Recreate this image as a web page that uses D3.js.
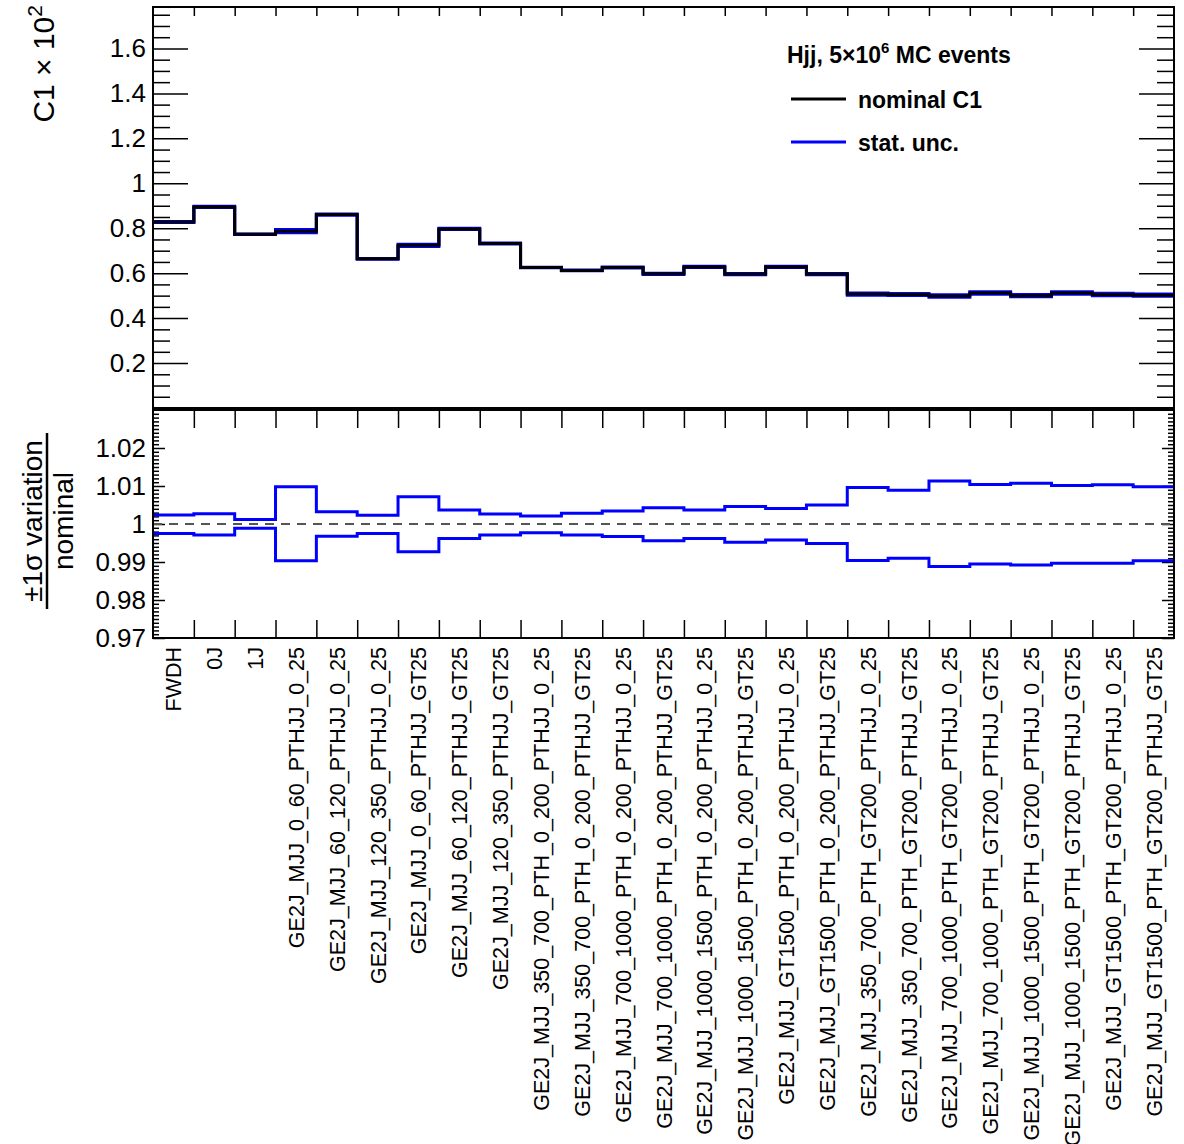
<!DOCTYPE html>
<html>
<head>
<meta charset="utf-8">
<script src="https://cdn.jsdelivr.net/npm/d3@7"></script>
<style>
body { margin:0; background:#fff; }
svg { font-family: "Liberation Sans", Arial, Helvetica, sans-serif; }
.axis path.domain { display:none; }
.axis line { stroke:#000; stroke-width:1.5; }
</style>
</head>
<body>
<svg id="chart" width="1184" height="1144"></svg>
<script>
// bin labels
var categories = ["FWDH","0J","1J",
	"GE2J_MJJ_0_60_PTHJJ_0_25","GE2J_MJJ_60_120_PTHJJ_0_25","GE2J_MJJ_120_350_PTHJJ_0_25",
	"GE2J_MJJ_0_60_PTHJJ_GT25","GE2J_MJJ_60_120_PTHJJ_GT25","GE2J_MJJ_120_350_PTHJJ_GT25",
	"GE2J_MJJ_350_700_PTH_0_200_PTHJJ_0_25","GE2J_MJJ_350_700_PTH_0_200_PTHJJ_GT25",
	"GE2J_MJJ_700_1000_PTH_0_200_PTHJJ_0_25","GE2J_MJJ_700_1000_PTH_0_200_PTHJJ_GT25",
	"GE2J_MJJ_1000_1500_PTH_0_200_PTHJJ_0_25","GE2J_MJJ_1000_1500_PTH_0_200_PTHJJ_GT25",
	"GE2J_MJJ_GT1500_PTH_0_200_PTHJJ_0_25","GE2J_MJJ_GT1500_PTH_0_200_PTHJJ_GT25",
	"GE2J_MJJ_350_700_PTH_GT200_PTHJJ_0_25","GE2J_MJJ_350_700_PTH_GT200_PTHJJ_GT25",
	"GE2J_MJJ_700_1000_PTH_GT200_PTHJJ_0_25","GE2J_MJJ_700_1000_PTH_GT200_PTHJJ_GT25",
	"GE2J_MJJ_1000_1500_PTH_GT200_PTHJJ_0_25","GE2J_MJJ_1000_1500_PTH_GT200_PTHJJ_GT25",
	"GE2J_MJJ_GT1500_PTH_GT200_PTHJJ_0_25","GE2J_MJJ_GT1500_PTH_GT200_PTHJJ_GT25"];

// C1 x 10^2, nominal
var nominal = [0.828,0.895,0.773,0.787,0.861,0.664,0.724,0.797,0.732,0.625,0.612,0.625,0.597,
	0.628,0.596,0.628,0.596,0.507,0.505,0.498,0.512,0.500,0.512,0.505,0.502];

// +-1 sigma stat variation / nominal
var statUp = [1.0024,1.0027,1.0012,1.0098,1.0032,1.0023,1.0072,1.0037,1.0026,1.0021,1.0028,1.0034,1.0043,
	1.0037,1.0046,1.0041,1.0050,1.0096,1.0089,1.0113,1.0104,1.0107,1.0101,1.0103,1.0098];
var statDown = [0.9975,0.9971,0.9989,0.9903,0.9968,0.9975,0.9927,0.9962,0.9971,0.9977,0.9971,0.9967,0.9956,
	0.9962,0.9952,0.9958,0.9949,0.9904,0.9910,0.9888,0.9895,0.9892,0.9897,0.9897,0.9903];

var topTicks = [0.2,0.4,0.6,0.8,1,1.2,1.4,1.6];
var ratioTicks = [0.97,0.98,0.99,1,1.01,1.02];

var blue = "#0000ff";
var L = 153, R = 1174;
var svg = d3.select("#chart");

var x = d3.scaleLinear().domain([0, categories.length]).range([L, R]);
var yTop = d3.scaleLinear().domain([0, 1.78]).range([408, 8]);
var yRat = d3.scaleLinear().domain([0.97, 1.03]).range([638, 410]);

function steps(vals){
	var pts = vals.map(function(v,i){ return [i, v]; });
	pts.push([vals.length, vals[vals.length-1]]);
	return pts;
}

function stepLine(y){
	return d3.line().x(function(d){ return x(d[0]); }).y(function(d){ return y(d[1]); }).curve(d3.curveStepAfter);
}

function fmt(d){ return String(+d.toFixed(3)); }

// ---------- y axes (ticks inward, mirrored on the right) ----------
function yAxes(y, majors, minorStep, majLen, minLen, lo, hi){
	var minors = d3.range(lo, hi + 1e-9, minorStep).filter(function(v){
		return !majors.some(function(m){ return Math.abs(m - v) < 1e-6; });
	});
	svg.append("g").attr("class","axis").attr("transform","translate("+L+",0)")
		.call(d3.axisLeft(y).tickValues(minors).tickSize(-minLen).tickFormat(""));
	svg.append("g").attr("class","axis").attr("transform","translate("+R+",0)")
		.call(d3.axisRight(y).tickValues(minors).tickSize(-minLen).tickFormat(""));
	svg.append("g").attr("class","axis").attr("transform","translate("+L+",0)")
		.call(d3.axisLeft(y).tickValues(majors).tickSize(-majLen).tickPadding(7).tickFormat(fmt))
		.selectAll("text").attr("font-size", 26).attr("fill", "#000")
		.attr("font-family", "Liberation Sans, Arial, sans-serif");
	svg.append("g").attr("class","axis").attr("transform","translate("+R+",0)")
		.call(d3.axisRight(y).tickValues(majors).tickSize(-majLen).tickFormat(""));
}

yAxes(yTop, topTicks, 0.05, 35, 17, 0.05, 1.75);
yAxes(yRat, ratioTicks, 0.001, 12, 6, 0.971, 1.029);

// x ticks at bin edges
var edges = d3.range(1, categories.length);
svg.append("g").attr("class","axis").attr("transform","translate(0,8)")
	.call(d3.axisTop(x).tickValues(edges).tickSize(-8).tickFormat(""));
svg.append("g").attr("class","axis").attr("transform","translate(0,410)")
	.call(d3.axisTop(x).tickValues(edges).tickSize(-18).tickFormat(""));
svg.append("g").attr("class","axis").attr("transform","translate(0,638)")
	.call(d3.axisBottom(x).tickValues(edges).tickSize(-18).tickFormat(""));

// ---------- upper pad ----------
var upAbs = nominal.map(function(v,i){ return v * statUp[i]; });
var dnAbs = nominal.map(function(v,i){ return v * statDown[i]; });

svg.append("path").attr("d", stepLine(yTop)(steps(upAbs)))
	.attr("fill","none").attr("stroke", blue).attr("stroke-width", 3);
svg.append("path").attr("d", stepLine(yTop)(steps(dnAbs)))
	.attr("fill","none").attr("stroke", blue).attr("stroke-width", 3);
svg.append("path").attr("d", stepLine(yTop)(steps(nominal)))
	.attr("fill","none").attr("stroke", "#000").attr("stroke-width", 3);

// ---------- ratio pad ----------
svg.append("line")
	.attr("x1", L).attr("x2", R).attr("y1", yRat(1)).attr("y2", yRat(1))
	.attr("stroke", "#555").attr("stroke-width", 2).attr("stroke-dasharray", "9,7");
svg.append("path").attr("d", stepLine(yRat)(steps(statUp)))
	.attr("fill","none").attr("stroke", blue).attr("stroke-width", 3);
svg.append("path").attr("d", stepLine(yRat)(steps(statDown)))
	.attr("fill","none").attr("stroke", blue).attr("stroke-width", 3);

// frames
svg.append("rect").attr("x", L).attr("y", 7).attr("width", R-L).attr("height", 401)
	.attr("fill","none").attr("stroke","#000").attr("stroke-width", 2);
svg.append("rect").attr("x", L).attr("y", 410).attr("width", R-L).attr("height", 228)
	.attr("fill","none").attr("stroke","#000").attr("stroke-width", 2);
svg.append("line").attr("x1", L).attr("x2", R).attr("y1", 409).attr("y2", 409)
	.attr("stroke","#000").attr("stroke-width", 3);

// x labels, rotated
svg.append("g").selectAll("text")
	.data(categories)
	.enter().append("text")
	.attr("transform", function(d,i){ return "translate(" + (x(i+0.5)+8) + ",647) rotate(-90)"; })
	.attr("text-anchor", "end")
	.attr("font-size", 21.5)
	.text(function(d){ return d; });

// y titles
var t1 = svg.append("text")
	.attr("transform", "translate(54,5) rotate(-90)")
	.attr("text-anchor", "end")
	.attr("font-size", 30);
t1.append("tspan").text("C1 \u00d7 10");
t1.append("tspan").attr("dy", -12).attr("font-size", 21).text("2");

var t2 = svg.append("g").attr("transform", "translate(0,521) rotate(-90)");
t2.append("text").attr("x", 0).attr("y", 42).attr("text-anchor","middle").attr("font-size", 28)
	.text("\u00b11\u03c3 variation");
t2.append("line").attr("x1", -88).attr("x2", 88).attr("y1", 47).attr("y2", 47)
	.attr("stroke","#000").attr("stroke-width", 2.5);
t2.append("text").attr("x", 0).attr("y", 73).attr("text-anchor","middle").attr("font-size", 28)
	.text("nominal");

// legend
var leg = svg.append("g").attr("font-weight", "bold").attr("font-size", 23);
var lt = leg.append("text").attr("x", 787).attr("y", 63);
lt.append("tspan").text("Hjj, 5\u00d710");
lt.append("tspan").attr("dy", -10).attr("font-size", 15).text("6");
lt.append("tspan").attr("dy", 10).text(" MC events");

var legendItems = [{name: "nominal C1", color: "#000"}, {name: "stat. unc.", color: blue}];
legendItems.forEach(function(d, i){
	var yy = 99 + i*43;
	leg.append("line").attr("x1", 791).attr("x2", 846).attr("y1", yy).attr("y2", yy)
		.attr("stroke", d.color).attr("stroke-width", 3);
	leg.append("text").attr("x", 858).attr("y", yy + 9).text(d.name);
});
</script>
</body>
</html>
